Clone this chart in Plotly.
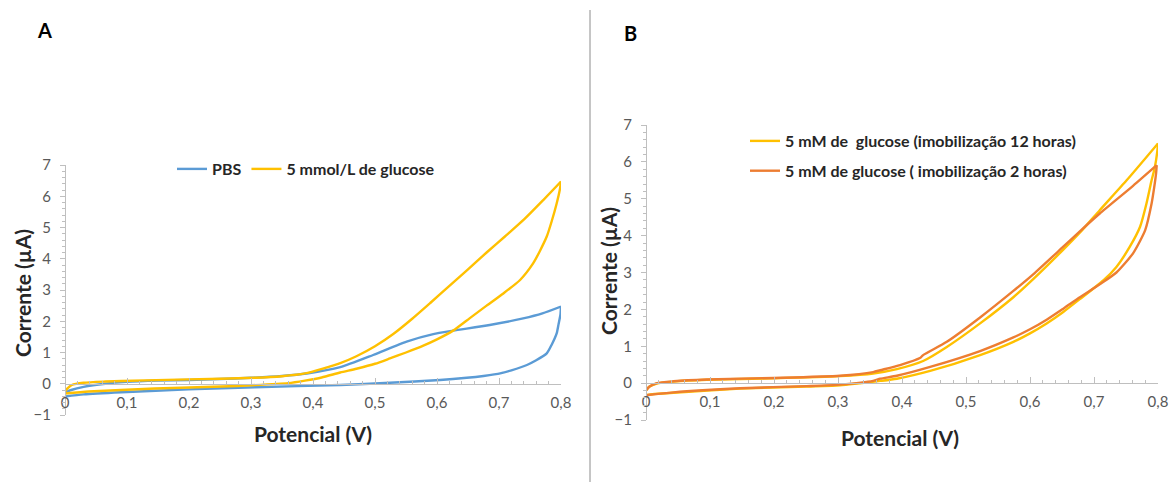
import plotly.graph_objects as go

# ---------------- data ----------------
# Panel A: PBS
pbs_fwd_x = [0, 0.01, 0.03, 0.065, 0.1, 0.15, 0.2, 0.25, 0.3, 0.35, 0.39, 0.444, 0.497, 0.551, 0.594, 0.626,
             0.685, 0.739, 0.77, 0.8]
pbs_fwd_y = [-0.28, -0.2, -0.1, 0.0, 0.06, 0.1, 0.12, 0.15, 0.19, 0.25, 0.33, 0.53, 0.92, 1.35, 1.59, 1.70,
             1.88, 2.09, 2.25, 2.47]
pbs_rev_x = [0.8, 0.799, 0.796, 0.793, 0.785, 0.777, 0.76, 0.745, 0.72, 0.702, 0.675, 0.648, 0.605, 0.524,
             0.444, 0.306, 0.199, 0.091, 0.03, 0]
pbs_rev_y = [2.47, 2.2, 1.9, 1.61, 1.25, 0.97, 0.75, 0.60, 0.43, 0.33, 0.25, 0.19, 0.12, 0.03,
             -0.04, -0.11, -0.18, -0.27, -0.34, -0.41]

# Panel A: 5 mmol/L glucose
gluA_fwd_x = [0, 0.004, 0.011, 0.03, 0.065, 0.091, 0.199, 0.306, 0.35, 0.387, 0.444, 0.47, 0.5, 0.53, 0.56,
              0.59, 0.62, 0.65, 0.68, 0.71, 0.74, 0.77, 0.8]
gluA_fwd_y = [-0.25, -0.15, -0.04, 0.03, 0.07, 0.09, 0.14, 0.19, 0.24, 0.33, 0.66, 0.88, 1.2, 1.6, 2.08,
              2.6, 3.13, 3.66, 4.2, 4.72, 5.25, 5.85, 6.47]
gluA_rev_x = [0.8, 0.798, 0.793, 0.785, 0.777, 0.766, 0.755, 0.734, 0.707, 0.68, 0.653, 0.626, 0.6, 0.578,
              0.55, 0.524, 0.5, 0.47, 0.444, 0.414, 0.387, 0.36, 0.3, 0.253, 0.2, 0.145, 0.09, 0.038, 0]
gluA_rev_y = [6.47, 6.2, 5.77, 5.2, 4.71, 4.25, 3.85, 3.32, 2.89, 2.5, 2.1, 1.70, 1.42, 1.22,
              1.0, 0.81, 0.64, 0.48, 0.36, 0.2, 0.1, 0.02, -0.05, -0.09, -0.12, -0.15, -0.2, -0.25, -0.31]

# Panel B: 12 h immobilisation
g12_fwd_x = [0, 0.005, 0.017, 0.043, 0.095, 0.2, 0.303, 0.355, 0.392, 0.433, 0.47, 0.522, 0.574, 0.605,
             0.652, 0.68, 0.709, 0.751, 0.8]
g12_fwd_y = [-0.2, -0.1, -0.01, 0.04, 0.09, 0.13, 0.19, 0.26, 0.38, 0.6, 0.98, 1.62, 2.33, 2.82,
             3.62, 4.12, 4.69, 5.5, 6.5]
g12_rev_x = [0.8, 0.799, 0.795, 0.79, 0.782, 0.772, 0.756, 0.735, 0.715, 0.678, 0.652, 0.626, 0.6, 0.574,
             0.522, 0.444, 0.392, 0.366, 0.303, 0.251, 0.147, 0.043, 0.01, 0]
g12_rev_y = [6.5, 6.3, 5.85, 5.5, 4.87, 4.24, 3.70, 3.15, 2.79, 2.28, 1.93, 1.62, 1.35, 1.12,
             0.76, 0.33, 0.12, 0.06, -0.06, -0.09, -0.15, -0.26, -0.3, -0.33]

# Panel B: 2 h immobilisation
g2_fwd_x = [0, 0.005, 0.017, 0.043, 0.095, 0.2, 0.303, 0.355, 0.366, 0.397, 0.428, 0.433, 0.47, 0.522,
            0.574, 0.605, 0.652, 0.68, 0.709, 0.761, 0.798]
g2_fwd_y = [-0.2, -0.1, 0.0, 0.05, 0.1, 0.14, 0.2, 0.3, 0.35, 0.49, 0.68, 0.76, 1.12, 1.78,
            2.5, 2.95, 3.7, 4.15, 4.6, 5.35, 5.91]
g2_rev_x = [0.798, 0.797, 0.794, 0.79, 0.78, 0.761, 0.735, 0.709, 0.678, 0.652, 0.626, 0.6, 0.574, 0.522,
            0.444, 0.392, 0.366, 0.355, 0.303, 0.251, 0.147, 0.043, 0]
g2_rev_y = [5.91, 5.69, 5.3, 4.87, 4.15, 3.52, 3.0, 2.68, 2.33, 2.02, 1.72, 1.46, 1.24, 0.87,
            0.44, 0.2, 0.12, 0.06, -0.04, -0.08, -0.14, -0.25, -0.33]

x_tickvals = [0, 0.1, 0.2, 0.3, 0.4, 0.5, 0.6, 0.7, 0.8]
x_ticktext = ["0", "0,1", "0,2", "0,3", "0,4", "0,5", "0,6", "0,7", "0,8"]
y_tickvals = [-1, 0, 1, 2, 3, 4, 5, 6, 7]

# ---------------- layout geometry ----------------
W, H = 1169, 482
FONT = "Lato"
Y_RANGE = [-1, 7]
X_RANGE = [0, 0.8]


def px_x(p):
    return p / W


def px_y(p):
    return 1 - p / H


domA_x = [px_x(65), px_x(561)]
domA_y = [px_y(415), px_y(165)]
domB_x = [px_x(646), px_x(1158)]
domB_y = [px_y(420), px_y(125)]


def zero_pos(dom):
    return dom[0] + (0 - Y_RANGE[0]) / (Y_RANGE[1] - Y_RANGE[0]) * (dom[1] - dom[0])


fig = go.Figure()


def add_loop(fx, fy, rx, ry, name, color, xa, ya, leg, grp):
    fig.add_trace(go.Scatter(x=fx, y=fy, mode="lines", name=name, legendgroup=grp,
                             line=dict(color=color, width=2.4, shape="spline", smoothing=0.6),
                             xaxis=xa, yaxis=ya, legend=leg, hoverinfo="skip"))
    fig.add_trace(go.Scatter(x=rx, y=ry, mode="lines", name=name, legendgroup=grp, showlegend=False,
                             line=dict(color=color, width=2.4, shape="spline", smoothing=0.6),
                             xaxis=xa, yaxis=ya, legend=leg, hoverinfo="skip"))


add_loop(pbs_fwd_x, pbs_fwd_y, pbs_rev_x, pbs_rev_y, "PBS", "#5B9BD5", "x", "y", "legend", "pbs")
add_loop(gluA_fwd_x, gluA_fwd_y, gluA_rev_x, gluA_rev_y, "5 mmol/L de glucose", "#FFC000", "x", "y",
         "legend", "glu")
add_loop(g12_fwd_x, g12_fwd_y, g12_rev_x, g12_rev_y, "5 mM de  glucose (imobilização 12 horas)", "#FFC000",
         "x2", "y2", "legend2", "g12")
add_loop(g2_fwd_x, g2_fwd_y, g2_rev_x, g2_rev_y, "5 mM de glucose ( imobilização 2 horas)", "#ED7D31",
         "x2", "y2", "legend2", "g2")

axis_gray = "#BFBFBF"
tick_font = dict(family=FONT, size=15, color="#595959")


def xaxis(dom, ydom):
    return dict(domain=dom, range=X_RANGE, anchor="free", position=zero_pos(ydom), automargin=False,
                showgrid=False, zeroline=False, showline=True, linecolor=axis_gray,
                linewidth=1, ticks="inside", ticklen=6, tickcolor=axis_gray,
                tickvals=x_tickvals, ticktext=x_ticktext, tickfont=tick_font,
                minor=dict(dtick=0.02, ticks="inside", ticklen=3, tickcolor=axis_gray),
                ticklabelstandoff=5)


def yaxis(dom, xdom):
    return dict(domain=dom, range=Y_RANGE, anchor="free", position=xdom[0], automargin=False,
                showgrid=False, zeroline=False, showline=True, linecolor=axis_gray, linewidth=1,
                ticks="outside", ticklen=5, tickcolor=axis_gray, tickvals=y_tickvals,
                tickfont=tick_font, minor=dict(dtick=0.2, ticks="outside", ticklen=3, tickcolor=axis_gray),
                ticklabelstandoff=6)


fig.update_layout(
    width=W, height=H,
    margin=dict(l=0, r=0, t=0, b=0, autoexpand=False),
    paper_bgcolor="white", plot_bgcolor="white",
    font=dict(family=FONT, color="#262626"),
    xaxis=xaxis(domA_x, domA_y),
    yaxis=yaxis(domA_y, domA_x),
    xaxis2=xaxis(domB_x, domB_y),
    yaxis2=yaxis(domB_y, domB_x),
    legend=dict(orientation="h", x=px_x(172), y=px_y(169), xanchor="left", yanchor="middle",
                font=dict(family=FONT, size=16, color="#262626", weight="bold"),
                bgcolor="rgba(0,0,0,0)", itemwidth=30, tracegroupgap=0),
    legend2=dict(orientation="v", x=px_x(745), y=px_y(124), xanchor="left", yanchor="top",
                 font=dict(family=FONT, size=16, color="#262626", weight="bold"),
                 bgcolor="rgba(0,0,0,0)", itemwidth=30, traceorder="grouped", tracegroupgap=6),
    showlegend=True,
)

for txt, cx, cy in [("<b>A</b>", 44, 30), ("<b>B</b>", 630, 33)]:
    fig.add_annotation(xref="paper", yref="paper", x=px_x(cx), y=px_y(cy), text=txt, showarrow=False,
                       xanchor="center", yanchor="middle", font=dict(family=FONT, size=20, color="black"))

title_font = dict(family=FONT, size=21, color="#262626")
for cx, cy in [(313, 433), (900, 437)]:
    fig.add_annotation(xref="paper", yref="paper", x=px_x(cx), y=px_y(cy), text="<b>Potencial (V)</b>",
                       showarrow=False, xanchor="center", yanchor="middle", font=title_font)
for cx, cy in [(22, 293), (608, 271)]:
    fig.add_annotation(xref="paper", yref="paper", x=px_x(cx), y=px_y(cy), text="<b>Corrente (µA)</b>",
                       showarrow=False, xanchor="center", yanchor="middle", textangle=-90, font=title_font)

# separator between the two panels
fig.add_shape(type="line", xref="paper", yref="paper", x0=px_x(590), x1=px_x(590), y0=0, y1=px_y(10),
              line=dict(color="#8C8C8C", width=1))

# remove the default page margin so the figure sits at the window's top-left corner
fig.write_html("out.html", config={"displayModeBar": False},
               post_script="document.body.style.margin='0px';")
